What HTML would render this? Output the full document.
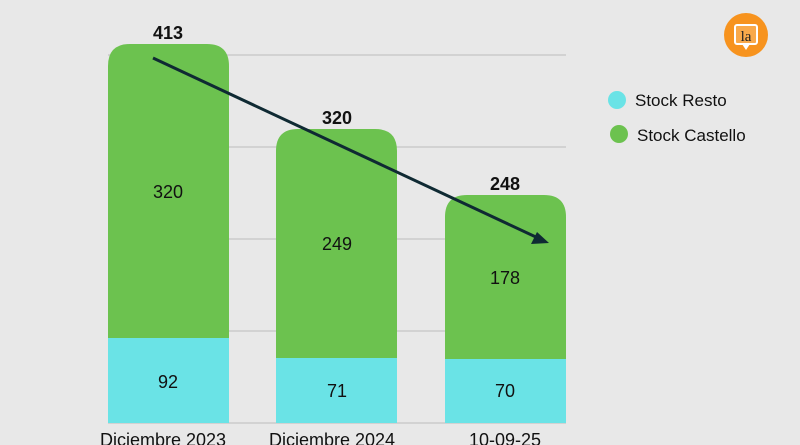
<!DOCTYPE html>
<html><head><meta charset="utf-8"><style>
body{margin:0;width:800px;height:445px;overflow:hidden;background:#e8e8e8;font-family:"Liberation Sans",sans-serif}
</style></head><body>
<svg width="800" height="445" xmlns="http://www.w3.org/2000/svg" style="display:block">
<rect width="800" height="445" fill="#e8e8e8"/>
<g stroke="#bdbdbd" stroke-width="1">
<line x1="108" y1="55" x2="566" y2="55"/>
<line x1="108" y1="147" x2="566" y2="147"/>
<line x1="108" y1="239" x2="566" y2="239"/>
<line x1="108" y1="331" x2="566" y2="331"/>
<line x1="108" y1="423" x2="566" y2="423"/>
</g>
<g>
<path d="M108,338 V66 Q108,44 130,44 H207 Q229,44 229,66 V338 Z" fill="#6cc24f"/>
<rect x="108" y="338" width="121" height="85" fill="#6ae3e6"/>
<path d="M276,358 V151 Q276,129 298,129 H375 Q397,129 397,151 V358 Z" fill="#6cc24f"/>
<rect x="276" y="358" width="121" height="65" fill="#6ae3e6"/>
<path d="M445,359 V217 Q445,195 467,195 H544 Q566,195 566,217 V359 Z" fill="#6cc24f"/>
<rect x="445" y="359" width="121" height="64" fill="#6ae3e6"/>
</g>
<g font-size="18" fill="#111" text-anchor="middle">
<text x="168" y="198">320</text>
<text x="168" y="388">92</text>
<text x="337" y="250">249</text>
<text x="337" y="397">71</text>
<text x="505" y="284">178</text>
<text x="505" y="397">70</text>
</g>
<g font-size="18" font-weight="bold" fill="#111" text-anchor="middle">
<text x="168" y="39">413</text>
<text x="337" y="124">320</text>
<text x="505" y="190">248</text>
</g>
<g font-size="18" fill="#111" text-anchor="middle">
<text x="163" y="446">Diciembre 2023</text>
<text x="332" y="446">Diciembre 2024</text>
<text x="505" y="446">10-09-25</text>
</g>
<line x1="153" y1="58" x2="538" y2="238" stroke="#0f2a33" stroke-width="3"/>
<polygon points="549,243 531,244 537,232" fill="#0f2a33"/>
<circle cx="617" cy="100" r="9" fill="#6ae3e6"/>
<text x="635" y="106" font-size="17" fill="#111">Stock Resto</text>
<circle cx="619" cy="134" r="9" fill="#6cc24f"/>
<text x="637" y="141" font-size="17" fill="#111">Stock Castello</text>
<circle cx="746" cy="35" r="22" fill="#f7931e"/>
<rect x="735" y="25" width="22" height="19" rx="2" fill="#f9a94a" stroke="#fff" stroke-width="2"/>
<polygon points="742,44 746,50 750,44" fill="#fff"/>
<text x="746" y="41" font-size="15" font-family="Liberation Serif,serif" fill="#222" text-anchor="middle">la</text>
</svg>
</body></html>
